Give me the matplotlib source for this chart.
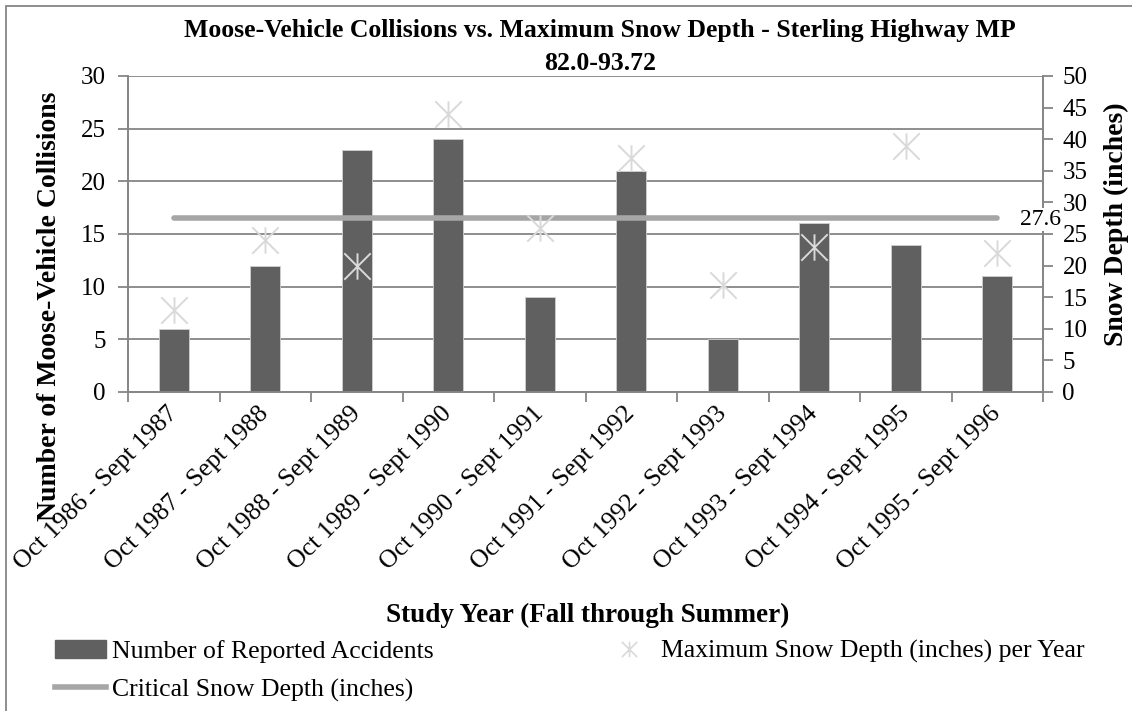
import matplotlib.pyplot as plt
import matplotlib.patches as mpatches
from matplotlib.path import Path
from matplotlib.lines import Line2D
import numpy as np

plt.rcParams['font.family'] = ['Liberation Serif', 'DejaVu Serif']

# data
years = ['Oct 1986 - Sept 1987', 'Oct 1987 - Sept 1988', 'Oct 1988 - Sept 1989',
         'Oct 1989 - Sept 1990', 'Oct 1990 - Sept 1991', 'Oct 1991 - Sept 1992',
         'Oct 1992 - Sept 1993', 'Oct 1993 - Sept 1994', 'Oct 1994 - Sept 1995',
         'Oct 1995 - Sept 1996']
accidents = [6, 12, 23, 24, 9, 21, 5, 16, 14, 11]
snow_depth = [13, 24, 20, 44, 26, 37, 17, 23, 39, 22]
critical_depth = 27.6

W, H = 1132, 711
fig = plt.figure(figsize=(W / 100, H / 100), dpi=100)
ax = fig.add_axes([128 / W, 1 - 392 / H, (1043 - 128) / W, (392 - 76) / H])
ax2 = ax.twinx()

grid_col = '#868686'
x = np.arange(len(years))

# bars
ax.bar(x, accidents, width=0.33, color='#606060', edgecolor='#d0d0d0',
       linewidth=0.6, zorder=3)
ax.set_xlim(-0.5, len(years) - 0.5)
ax.set_ylim(0, 30)
ax.set_yticks(range(0, 31, 5))
ax.yaxis.grid(True, color=grid_col, linewidth=1.3)
ax.set_axisbelow(True)

# excel-like asterisk marker
star = Path([(-1, -1), (1, 1), (-1, 1), (1, -1), (0, -1), (0, 1)],
            [Path.MOVETO, Path.LINETO, Path.MOVETO, Path.LINETO, Path.MOVETO, Path.LINETO])

ax2.plot(x, snow_depth, linestyle='none', marker=star, markersize=19,
         markerfacecolor='none', markeredgecolor='#d9d9d9', markeredgewidth=1.4,
         zorder=5)
ax2.plot([x[0], x[-1]], [critical_depth, critical_depth], color='#a6a6a6',
         linewidth=4, solid_capstyle='round', zorder=4)
ax2.text(x[-1] + 0.25, critical_depth - 0.3, '27.6', fontsize=17, va='center', ha='left',
         bbox=dict(facecolor='white', edgecolor='none', pad=1), zorder=6)
ax2.set_ylim(0, 50)
ax2.set_yticks(range(0, 51, 5))

# spines and ticks
for a in (ax, ax2):
    for s in a.spines.values():
        s.set_color(grid_col)
        s.set_linewidth(1.3)
    a.spines['top'].set_visible(False)
ax.tick_params(axis='y', colors=grid_col, labelcolor='black', labelsize=18,
               length=7, width=1.3, pad=9)
ax2.tick_params(axis='y', colors=grid_col, labelcolor='black', labelsize=18,
                length=7, width=1.3, pad=7)

# boundary ticks (major) and category labels (minor)
ax.set_xticks(np.arange(-0.5, len(years), 1))
ax.set_xticklabels([])
ax.tick_params(axis='x', which='major', colors=grid_col, length=7, width=1.3)
ax.set_xticks(x, minor=True)
ax.set_xticklabels(years, minor=True, rotation=45, ha='right', va='center',
                   rotation_mode='anchor', fontsize=18.5)
ax.tick_params(axis='x', which='minor', length=0, pad=13)

ax.set_ylabel('Number of Moose-Vehicle Collisions', fontsize=20, fontweight='bold')
ax.yaxis.set_label_coords(-0.072, 0.27)
ax2.set_ylabel('Snow Depth (inches)', fontsize=20, fontweight='bold', rotation=90)
ax2.yaxis.set_label_coords(1.067, 0.53)

fig.text(588 / W, 1 - 615 / H, 'Study Year (Fall through Summer)', fontsize=19.5,
         fontweight='bold', ha='center', va='center')
fig.text(600 / W, 1 - 31 / H,
         'Moose-Vehicle Collisions vs. Maximum Snow Depth - Sterling Highway MP',
         fontsize=18.5, fontweight='bold', ha='center', va='center')
fig.text(600 / W, 1 - 64 / H, '82.0-93.72', fontsize=18.5, fontweight='bold',
         ha='center', va='center')

# legend
h_bar = mpatches.Patch(color='#606060')
h_line = Line2D([], [], color='#a6a6a6', linewidth=4)
h_star = Line2D([], [], linestyle='none', marker=star, markersize=11,
                markerfacecolor='none', markeredgecolor='#d9d9d9', markeredgewidth=1.2)
fig.legend([h_bar, h_line, h_star],
           ['Number of Reported Accidents', 'Critical Snow Depth (inches)',
            'Maximum Snow Depth (inches) per Year'],
           ncol=2, loc='upper left', bbox_to_anchor=(55 / W, 1 - 640 / H), frameon=False,
           fontsize=18.5, handlelength=2.0, handletextpad=0.23, columnspacing=6.6,
           labelspacing=0.6, borderpad=0, borderaxespad=0)

# outer chart border
fig.patches.append(mpatches.Rectangle((6 / W, -0.1), 1.2, 1.1 - 6 / H,
                                      transform=fig.transFigure, fill=False,
                                      edgecolor=grid_col, linewidth=1.3))

fig.savefig('out.png', dpi=100)
